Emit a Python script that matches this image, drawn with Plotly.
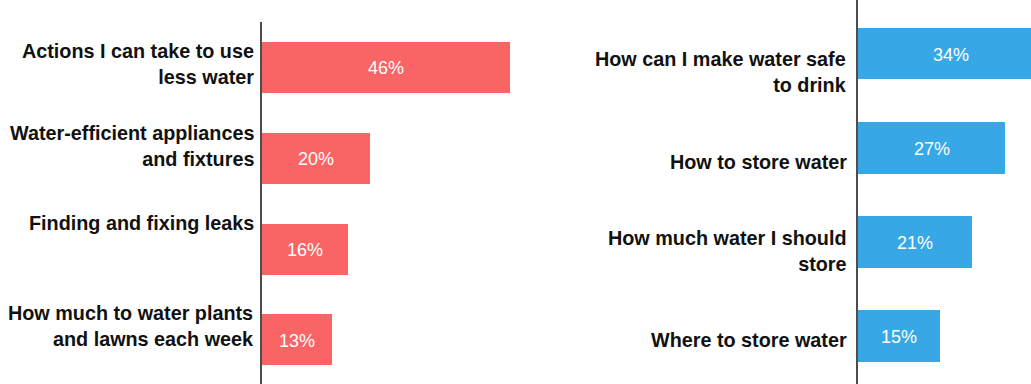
import plotly.graph_objects as go

# Survey topics: water conservation (left) and emergency water storage (right)
conserve_topics = [
    "Actions I can take to use less water",
    "Water-efficient appliances and fixtures",
    "Finding and fixing leaks",
    "How much to water plants and lawns each week",
]
conserve_labels = [
    "Actions I can take to use<br>less water",
    "Water-efficient appliances<br>and fixtures",
    "Finding and fixing leaks",
    "How much to water plants<br>and lawns each week",
]
conserve_pct = [46, 20, 16, 13]

storage_topics = [
    "How can I make water safe to drink",
    "How to store water",
    "How much water I should store",
    "Where to store water",
]
storage_labels = [
    "How can I make water safe<br>to drink",
    "How to store water",
    "How much water I should<br>store",
    "Where to store water",
]
storage_pct = [34, 27, 21, 15]

W, H = 1031, 384
RED = "#F96565"
BLUE = "#37A8E5"
AXIS = "#4d4d4d"
TEXT = "#111111"
FONT = "Liberation Sans, Arial, sans-serif"

# vertical nudges (px) for the category captions
left_shift = [3, 12, 26.5, 13.5]
right_shift = [-18, -14.5, -9, -4]

fig = go.Figure()
fig.add_trace(go.Bar(
    x=conserve_pct, y=conserve_topics, orientation="h",
    marker=dict(color=RED, line=dict(width=0)), width=0.56,
    xaxis="x", yaxis="y", hoverinfo="skip",
))
fig.add_trace(go.Bar(
    x=storage_pct, y=storage_topics, orientation="h",
    marker=dict(color=BLUE, line=dict(width=0)), width=0.55,
    xaxis="x2", yaxis="y2", hoverinfo="skip",
))

annotations = []
for i, (cat, lab, v) in enumerate(zip(conserve_topics, conserve_labels, conserve_pct)):
    annotations.append(dict(
        xref="paper", yref="y", x=256 / W, y=cat, text=lab,
        xanchor="right", yanchor="middle", align="right", showarrow=False,
        yshift=left_shift[i],
        font=dict(family=FONT, size=19.8, color=TEXT, weight="bold"),
    ))
    annotations.append(dict(
        xref="x", yref="y", x=v / 2, y=cat, text=f"{v}%",
        xanchor="center", yanchor="middle", showarrow=False, yshift=-1,
        font=dict(family=FONT, size=18, color="white"),
    ))
for i, (cat, lab, v) in enumerate(zip(storage_topics, storage_labels, storage_pct)):
    annotations.append(dict(
        xref="paper", yref="y2", x=849 / W, y=cat, text=lab,
        xanchor="right", yanchor="middle", align="right", showarrow=False,
        yshift=right_shift[i],
        font=dict(family=FONT, size=19.8, color=TEXT, weight="bold"),
    ))
    annotations.append(dict(
        xref="x2", yref="y2", x=v / 2, y=cat, text=f"{v}%",
        xanchor="center", yanchor="middle", showarrow=False, yshift=-1,
        font=dict(family=FONT, size=18, color="white"),
    ))

hidden_x = dict(showgrid=False, zeroline=False, showticklabels=False,
                ticks="", showline=False, fixedrange=True)
axis_y = dict(showgrid=False, zeroline=False, showticklabels=False, ticks="",
              showline=True, linecolor=AXIS, linewidth=2, fixedrange=True,
              type="category")

fig.update_layout(
    width=W, height=H,
    margin=dict(l=0, r=0, t=0, b=0),
    paper_bgcolor="white", plot_bgcolor="white",
    showlegend=False,
    bargap=0,
    xaxis=dict(domain=[262 / W, 600 / W], range=[0, 338 / 5.4], anchor="y", **hidden_x),
    yaxis=dict(domain=[0, (H - 22) / H], range=[3.486, -0.501], anchor="x", **axis_y),
    xaxis2=dict(domain=[858 / W, 1], range=[0, 173 / 5.45], anchor="y2", **hidden_x),
    yaxis2=dict(domain=[0, 1], range=[3.508, -0.568], anchor="x2", **axis_y),
    annotations=annotations,
)

fig.write_html("out.html")
